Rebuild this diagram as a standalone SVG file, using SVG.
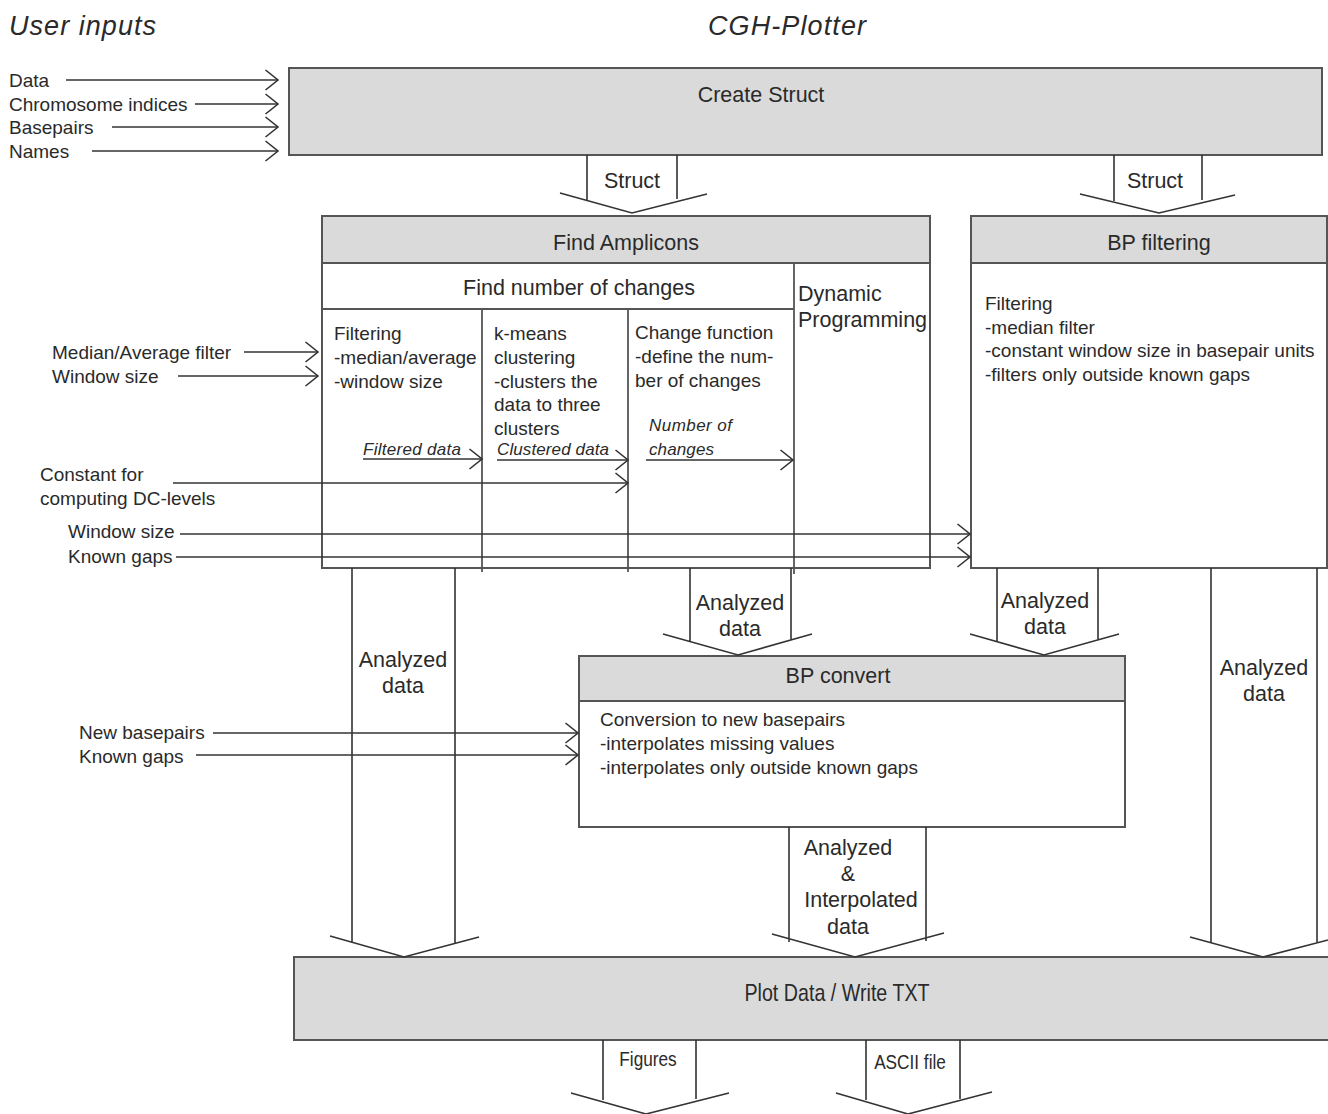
<svg xmlns="http://www.w3.org/2000/svg" width="1328" height="1114" viewBox="0 0 1328 1114">
<defs>
<style>
text{font-family:"Liberation Sans",Arial,sans-serif;fill:#2a2a2a}
.t19{font-size:19px}
.t21{font-size:21.5px}
.mid{text-anchor:middle}
.it{font-style:italic}
.ital{font-family:"Liberation Sans",Arial,sans-serif;font-style:italic;font-size:17px}
.box{stroke:#555;stroke-width:2}
.gray{fill:#dadada}
.white{fill:#fff}
.ln{stroke:#333;stroke-width:1.6;fill:none}
.div{stroke:#555;stroke-width:1.8;fill:none}
</style>
<marker id="chev" markerUnits="userSpaceOnUse" markerWidth="16" markerHeight="24" viewBox="-14 -11 16 22" refX="0" refY="0" orient="auto">
<path d="M -12.5 -10 L 0 0 L -12.5 10" fill="none" stroke="#333" stroke-width="1.6"/>
</marker>
</defs>
<rect width="1328" height="1114" fill="#fff"/>

<g id="titles">
<text x="9" y="35" class="it" font-size="27" textLength="147">User inputs</text>
<text x="708" y="35" class="it" font-size="27" textLength="158">CGH-Plotter</text>
</g>

<g id="create-struct">
<rect x="289" y="68" width="1033" height="87" class="box gray"/>
<text x="761" y="102" class="t21 mid">Create Struct</text>
</g>

<g id="find-amplicons">
<rect x="322" y="216" width="608" height="352" class="box white"/>
<rect x="322" y="216" width="608" height="47" class="box gray"/>
<line x1="322" y1="309" x2="794" y2="309" class="div"/>
<line x1="794" y1="263" x2="794" y2="574" class="div"/>
<line x1="482" y1="309" x2="482" y2="572" class="div"/>
<line x1="628" y1="309" x2="628" y2="572" class="div"/>
<text x="626" y="250" class="t21 mid">Find Amplicons</text>
<text x="579" y="295" class="t21 mid">Find number of changes</text>
<text x="798" y="301" class="t21">Dynamic</text>
<text x="798" y="327" class="t21">Programming</text>
<text x="334" y="340" class="t19">Filtering</text>
<text x="334" y="364" class="t19">-median/average</text>
<text x="334" y="388" class="t19">-window size</text>
<text x="494" y="340" class="t19">k-means</text>
<text x="494" y="364" class="t19">clustering</text>
<text x="494" y="388" class="t19">-clusters the</text>
<text x="494" y="411" class="t19">data to three</text>
<text x="494" y="435" class="t19">clusters</text>
<text x="635" y="339" class="t19">Change function</text>
<text x="635" y="363" class="t19">-define the num-</text>
<text x="635" y="387" class="t19">ber of changes</text>
<text x="363" y="455" class="ital" textLength="98">Filtered data</text>
<text x="497" y="455" class="ital" textLength="112">Clustered data</text>
<text x="649" y="431" class="ital" textLength="83">Number of</text>
<text x="649" y="455" class="ital" textLength="65">changes</text>
</g>

<g id="bp-filtering">
<rect x="971" y="216" width="356" height="352" class="box white"/>
<rect x="971" y="216" width="356" height="47" class="box gray"/>
<text x="1159" y="250" class="t21 mid">BP filtering</text>
<text x="985" y="310" class="t19">Filtering</text>
<text x="985" y="334" class="t19">-median filter</text>
<text x="985" y="357" class="t19">-constant window size in basepair units</text>
<text x="985" y="381" class="t19">-filters only outside known gaps</text>
</g>

<g id="bp-convert">
<rect x="579" y="656" width="546" height="171" class="box white"/>
<rect x="579" y="656" width="546" height="45" class="box gray"/>
<text x="838" y="683" class="t21 mid">BP convert</text>
<text x="600" y="726" class="t19">Conversion to new basepairs</text>
<text x="600" y="750" class="t19">-interpolates missing values</text>
<text x="600" y="774" class="t19">-interpolates only outside known gaps</text>
</g>

<g id="plot-data">
<rect x="294" y="957" width="1036" height="83" class="box gray"/>
<text transform="translate(837,1001) scale(0.82,1)" font-size="24" class="mid">Plot Data / Write TXT</text>
</g>

<g id="connectors">
<line x1="66" y1="80" x2="278" y2="80" class="ln" marker-end="url(#chev)"/>
<line x1="195" y1="104" x2="278" y2="104" class="ln" marker-end="url(#chev)"/>
<line x1="112" y1="127" x2="278" y2="127" class="ln" marker-end="url(#chev)"/>
<line x1="92" y1="151" x2="278" y2="151" class="ln" marker-end="url(#chev)"/>
<path d="M587 155 V200 M677 155 V199 M560 193 L632 213 L707 194" class="ln"/>
<path d="M1114 155 V201 M1202 155 V200 M1080 194 L1159 213 L1235 195" class="ln"/>
<line x1="244" y1="352" x2="318" y2="352" class="ln" marker-end="url(#chev)"/>
<line x1="178" y1="376" x2="318" y2="376" class="ln" marker-end="url(#chev)"/>
<line x1="173" y1="483" x2="628" y2="483" class="ln" marker-end="url(#chev)"/>
<line x1="180" y1="534" x2="970" y2="534" class="ln" marker-end="url(#chev)"/>
<line x1="176" y1="557" x2="970" y2="557" class="ln" marker-end="url(#chev)"/>
<line x1="363" y1="459" x2="482" y2="459" class="ln" marker-end="url(#chev)"/>
<line x1="497" y1="460" x2="628" y2="460" class="ln" marker-end="url(#chev)"/>
<line x1="646" y1="460" x2="793" y2="460" class="ln" marker-end="url(#chev)"/>
<path d="M352 568 V943 M455 568 V943 M330 936 L404 957 L479 937" class="ln"/>
<path d="M690 568 V641 M791 568 V640 M663 634 L738 655 L812 634" class="ln"/>
<path d="M997 568 V641 M1098 568 V640 M970 634 L1044 655 L1119 634" class="ln"/>
<path d="M1211 568 V943 M1317 568 V943 M1190 937 L1263 957 L1328 940" class="ln"/>
<line x1="213" y1="733" x2="578" y2="733" class="ln" marker-end="url(#chev)"/>
<line x1="196" y1="755" x2="578" y2="755" class="ln" marker-end="url(#chev)"/>
<path d="M789 827 V942 M926 827 V941 M772 934 L855 957 L944 933" class="ln"/>
<path d="M603 1040 V1100 M696 1040 V1099 M571 1093 L646 1114 L729 1093" class="ln"/>
<path d="M866 1040 V1100 M960 1040 V1099 M836 1093 L908 1114 L992 1092" class="ln"/>
</g>

<g id="labels">
<text x="9" y="87" class="t19">Data</text>
<text x="9" y="111" class="t19">Chromosome indices</text>
<text x="9" y="134" class="t19">Basepairs</text>
<text x="9" y="158" class="t19">Names</text>
<text x="632" y="188" class="t21 mid">Struct</text>
<text x="1155" y="188" class="t21 mid">Struct</text>
<text x="52" y="359" class="t19">Median/Average filter</text>
<text x="52" y="383" class="t19">Window size</text>
<text x="40" y="481" class="t19">Constant for</text>
<text x="40" y="505" class="t19">computing DC-levels</text>
<text x="68" y="538" class="t19">Window size</text>
<text x="68" y="563" class="t19">Known gaps</text>
<text x="740" y="610" class="t21 mid">Analyzed</text>
<text x="740" y="636" class="t21 mid">data</text>
<text x="1045" y="608" class="t21 mid">Analyzed</text>
<text x="1045" y="634" class="t21 mid">data</text>
<text x="403" y="667" class="t21 mid">Analyzed</text>
<text x="403" y="693" class="t21 mid">data</text>
<text x="1264" y="675" class="t21 mid">Analyzed</text>
<text x="1264" y="701" class="t21 mid">data</text>
<text x="79" y="739" class="t19">New basepairs</text>
<text x="79" y="763" class="t19">Known gaps</text>
<text x="848" y="855" class="t21 mid">Analyzed</text>
<text x="848" y="881" class="t21 mid">&amp;</text>
<text x="861" y="907" class="t21 mid">Interpolated</text>
<text x="848" y="934" class="t21 mid">data</text>
<text transform="translate(648,1066) scale(0.82,1)" font-size="21" class="mid">Figures</text>
<text transform="translate(910,1069) scale(0.82,1)" font-size="21" class="mid">ASCII file</text>
</g>
</svg>
